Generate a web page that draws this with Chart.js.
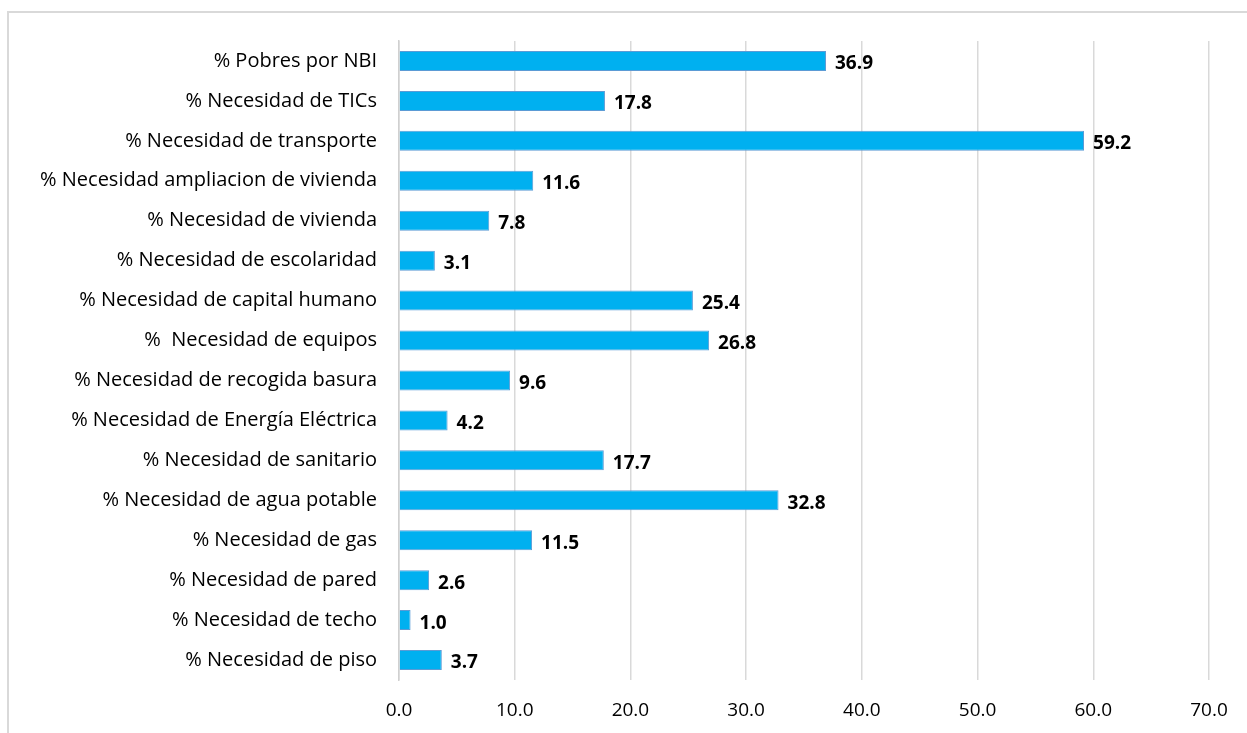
<!DOCTYPE html>
<html>
<head>
<meta charset="utf-8">
<script src="https://cdn.jsdelivr.net/npm/chart.js@4/dist/chart.umd.min.js"></script>
<style>
  html, body { margin: 0; padding: 0; background: #fff; overflow: hidden; }
  #wrap { position: relative; width: 1247px; height: 733px; }
  #frame { position: absolute; left: 7px; top: 11px; width: 1300px; height: 800px;
           border-left: 2px solid #d9d9d9; border-top: 2px solid #d9d9d9; }
  canvas { position: absolute; left: 0; top: 0; }
</style>
</head>
<body>
<div id="wrap">
  <div id="frame"></div>
  <canvas id="barChart" width="1247" height="733"></canvas>
</div>
<script>
// ---- data ----
const categories = [
    '% Pobres por NBI',
    '% Necesidad de TICs',
    '% Necesidad de transporte',
    '% Necesidad ampliacion de vivienda',
    '% Necesidad de vivienda',
    '% Necesidad de escolaridad',
    '% Necesidad de capital humano',
    '%  Necesidad de equipos',
    '% Necesidad de recogida basura',
    '% Necesidad de Energía Eléctrica',
    '% Necesidad de sanitario',
    '% Necesidad de agua potable',
    '% Necesidad de gas',
    '% Necesidad de pared',
    '% Necesidad de techo',
    '% Necesidad de piso'
];
const values = [36.9, 17.8, 59.2, 11.6, 7.8, 3.1, 25.4, 26.8, 9.6, 4.2, 17.7, 32.8, 11.5, 2.6, 1.0, 3.7];
const xTicks = [0, 10, 20, 30, 40, 50, 60, 70];

const FONT = "'Open Sans', sans-serif";

// value labels at the end of each bar
const valueLabels = {
    id: 'valueLabels',
    afterDatasetsDraw(chart) {
        const ctx = chart.ctx;
        const meta = chart.getDatasetMeta(0);
        ctx.save();
        ctx.font = 'bold 19px ' + FONT;
        ctx.fillStyle = '#000';
        ctx.textAlign = 'left';
        ctx.textBaseline = 'middle';
        meta.data.forEach((bar, i) => {
            ctx.fillText(values[i].toFixed(1), bar.x + 9, bar.y + 3);
        });
        ctx.restore();
    }
};

new Chart(document.getElementById('barChart').getContext('2d'), {
    type: 'bar',
    data: {
        labels: categories,
        datasets: [{
            data: values,
            backgroundColor: '#00b0f0',
            borderColor: '#5b9bd5',
            borderWidth: 1,
            categoryPercentage: 1,
            barPercentage: 0.5
        }]
    },
    options: {
        indexAxis: 'y',
        responsive: false,
        animation: false,
        layout: {
            padding: { top: 41, right: 38, bottom: 0, left: 0 }
        },
        scales: {
            x: {
                min: 0,
                max: 70,
                afterBuildTicks(scale) {
                    scale.ticks = xTicks.map(v => ({ value: v }));
                },
                afterFit(scale) { scale.height = 53; },
                grid: { color: '#d9d9d9', lineWidth: 1.5, drawTicks: false },
                border: { display: false },
                ticks: {
                    padding: 19,
                    color: '#000',
                    font: { family: FONT, size: 19 },
                    callback: v => Number(v).toFixed(1)
                }
            },
            y: {
                afterFit(scale) { scale.width = 399; },
                grid: { display: false, drawTicks: false },
                border: { display: true, color: '#d0d0d0', width: 1.5 },
                ticks: {
                    padding: 22,
                    color: '#000',
                    autoSkip: false,
                    font: { family: FONT, size: 20 }
                }
            }
        },
        plugins: {
            legend: { display: false },
            tooltip: { enabled: false }
        }
    },
    plugins: [valueLabels]
});
</script>
</body>
</html>
